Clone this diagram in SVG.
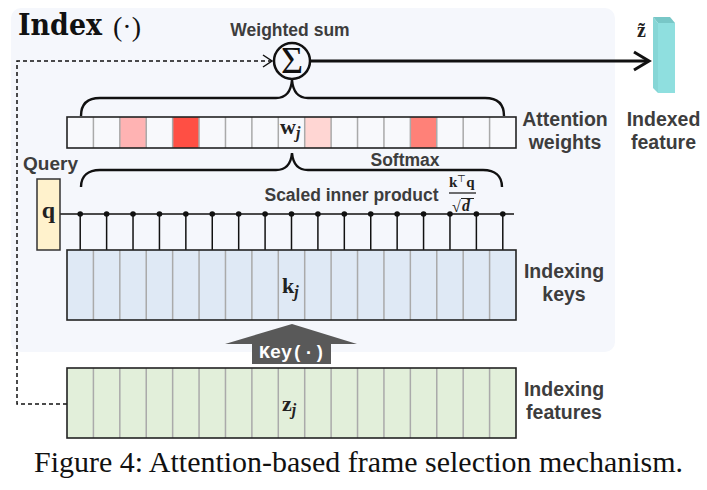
<svg xmlns="http://www.w3.org/2000/svg" xmlns:xlink="http://www.w3.org/1999/xlink" width="707" height="490" viewBox="0 0 707 490">
<style>
.lbl{font-family:"Liberation Sans",Arial,sans-serif;font-weight:bold;fill:#3d3d3d;}
.math{font-family:"Liberation Serif","Times New Roman",serif;font-weight:bold;fill:#222;}
.bar{stroke:#222;stroke-width:1.6;}
.div{stroke:#aaaaaa;stroke-width:1.5;fill:none;}
.brace{fill:none;stroke:#111;stroke-width:2.4;}
.conn{fill:none;stroke:#111;}
</style>
<defs>
<path id="divs70" class="div" d="M93.41,0V70M119.82,0V70M146.24,0V70M172.65,0V70M199.06,0V70M225.47,0V70M251.88,0V70M278.29,0V70M304.71,0V70M331.12,0V70M357.53,0V70M383.94,0V70M410.35,0V70M436.76,0V70M463.18,0V70M489.59,0V70"/>
<g id="pin"><line x1="0" y1="0" x2="0" y2="36" stroke="#111" stroke-width="1.5"/><circle cx="0" cy="0" r="2.8" fill="#111"/></g>
</defs>

<rect id="panel" x="11" y="8" width="604" height="344" rx="10" fill="#f5f7fc"/>

<g id="title">
<text x="18" y="35" font-family="'DejaVu Serif','Liberation Serif',serif" font-weight="bold" font-size="30" textLength="84" lengthAdjust="spacingAndGlyphs" fill="#111">Index</text>
<text x="113" y="36" font-family="'Liberation Serif','Times New Roman',serif" font-size="28" fill="#111">(·)</text>
</g>

<g id="connectors">
<path class="conn" d="M67,404H17V61H271" stroke-width="1.5" stroke-dasharray="4,3"/>
<path class="conn" d="M263,55L272,61L263,67" stroke-width="1.5"/>
<path class="conn" d="M310,61H648" stroke-width="3"/>
<path class="conn" d="M634,52L649,61L634,70" stroke-width="3"/>
<path class="brace" d="M81,116C81,104 88,98 100,98L276,98C286,98 291,92 292,80C293,92 298,98 308,98L485,98C497,98 504,104 504,116"/>
<path class="brace" d="M81,187C81,176 88,170 100,170L276,170C286,170 291,164 292,153C293,164 298,170 308,170L483,170C495,170 502,176 502,187"/>
<line x1="60" y1="214" x2="514" y2="214" stroke="#111" stroke-width="1.5"/>
<use xlink:href="#pin" x="80.21" y="214"/><use xlink:href="#pin" x="106.62" y="214"/><use xlink:href="#pin" x="133.03" y="214"/><use xlink:href="#pin" x="159.44" y="214"/><use xlink:href="#pin" x="185.85" y="214"/><use xlink:href="#pin" x="212.26" y="214"/><use xlink:href="#pin" x="238.68" y="214"/><use xlink:href="#pin" x="265.09" y="214"/><use xlink:href="#pin" x="291.5" y="214"/><use xlink:href="#pin" x="317.91" y="214"/><use xlink:href="#pin" x="344.32" y="214"/><use xlink:href="#pin" x="370.74" y="214"/><use xlink:href="#pin" x="397.15" y="214"/><use xlink:href="#pin" x="423.56" y="214"/><use xlink:href="#pin" x="449.97" y="214"/><use xlink:href="#pin" x="476.38" y="214"/><use xlink:href="#pin" x="502.79" y="214"/>
</g>

<g id="sum">
<circle cx="292" cy="61" r="18" fill="#f5f7fc" stroke="#111" stroke-width="2.5"/>
<text x="292" y="73" text-anchor="middle" font-family="'Liberation Serif','Times New Roman',serif" font-size="38" fill="#111">Σ</text>
<text class="lbl" x="290" y="36" text-anchor="middle" font-size="17.5">Weighted sum</text>
</g>

<g id="weights">
<rect x="67" y="117" width="449" height="31" fill="#f8f9fc"/>
<rect x="119.82" y="117" width="26.41" height="31" fill="#ffb3b3"/>
<rect x="172.65" y="117" width="26.41" height="31" fill="#ff4f44"/>
<rect x="304.71" y="117" width="26.41" height="31" fill="#ffd6d3"/>
<rect x="410.35" y="117" width="26.41" height="31" fill="#ff8178"/>
<use xlink:href="#divs70" transform="translate(0,117) scale(1,0.443)"/>
<rect class="bar" x="67" y="117" width="449" height="31" fill="none"/>
<text class="math" x="280" y="134" font-size="22">w<tspan font-style="italic" font-size="16" dy="4">j</tspan></text>
<text class="lbl" x="565" y="126" text-anchor="middle" font-size="19.5">Attention</text>
<text class="lbl" x="565" y="149" text-anchor="middle" font-size="19.5">weights</text>
<text class="lbl" x="405" y="166" text-anchor="middle" font-size="17.5">Softmax</text>
</g>

<g id="query">
<text class="lbl" x="50.5" y="170" text-anchor="middle" font-size="19">Query</text>
<rect x="37" y="179" width="23" height="71" fill="#fff2cc" stroke="#333" stroke-width="1.5"/>
<text class="math" x="48.5" y="218" text-anchor="middle" font-size="24">q</text>
</g>

<g id="inner-product">
<text class="lbl" x="351.5" y="201" text-anchor="middle" font-size="17.5">Scaled inner product</text>
<text class="math" x="449" y="187" font-size="15">k<tspan font-size="10" dy="-5" font-weight="normal">⊤</tspan><tspan dy="5">q</tspan></text>
<line x1="449" y1="193" x2="476" y2="193" stroke="#222" stroke-width="1.3"/>
<text x="452" y="212" font-family="'Liberation Serif','Times New Roman',serif" font-size="16" fill="#222">√</text>
<line x1="461" y1="198.5" x2="474" y2="198.5" stroke="#222" stroke-width="1"/>
<text class="math" x="462" y="211" font-size="16" font-style="italic">d</text>
</g>

<g id="keys">
<rect x="67" y="250" width="449" height="70" fill="#dfe9f5"/>
<use xlink:href="#divs70" transform="translate(0,250)"/>
<rect class="bar" x="67" y="250" width="449" height="70" fill="none"/>
<text class="math" x="282" y="293" font-size="22">k<tspan font-style="italic" font-size="16" dy="4">j</tspan></text>
<text class="lbl" x="564" y="278" text-anchor="middle" font-size="19.5">Indexing</text>
<text class="lbl" x="564" y="301" text-anchor="middle" font-size="19.5">keys</text>
</g>

<g id="key-fn">
<polygon points="292,324 357,344 331,344 331,364 252,364 252,344 225,344" fill="#595959"/>
<text x="292" y="358" text-anchor="middle" font-family="'Liberation Mono','Courier New',monospace" font-weight="bold" font-size="18" textLength="66" lengthAdjust="spacingAndGlyphs" fill="#ffffff">Key(·)</text>
</g>

<g id="features">
<rect x="67" y="368" width="449" height="70" fill="#e2efda"/>
<use xlink:href="#divs70" transform="translate(0,368)"/>
<rect class="bar" x="67" y="368" width="449" height="70" fill="none"/>
<text class="math" x="282" y="411" font-size="22">z<tspan font-style="italic" font-size="16" dy="4">j</tspan></text>
<text class="lbl" x="564" y="396" text-anchor="middle" font-size="19.5">Indexing</text>
<text class="lbl" x="564" y="419" text-anchor="middle" font-size="19.5">features</text>
</g>

<g id="indexed-feature">
<polygon points="653,17 670,17 675,23 658,23" fill="#78c7c7"/>
<polygon points="653,17 658,23 658,93 653,88" fill="#86d6d6"/>
<rect x="658" y="23" width="17" height="70" fill="#8fdfdf"/>
<text class="math" x="637" y="37" font-size="20">z̃</text>
<text class="lbl" x="663.5" y="126" text-anchor="middle" font-size="19.5">Indexed</text>
<text class="lbl" x="663.5" y="149" text-anchor="middle" font-size="19.5">feature</text>
</g>

<text id="caption" x="34" y="472" font-family="'Liberation Serif','Times New Roman',serif" font-size="29" textLength="649" lengthAdjust="spacingAndGlyphs" fill="#111">Figure 4: Attention-based frame selection mechanism.</text>
</svg>
